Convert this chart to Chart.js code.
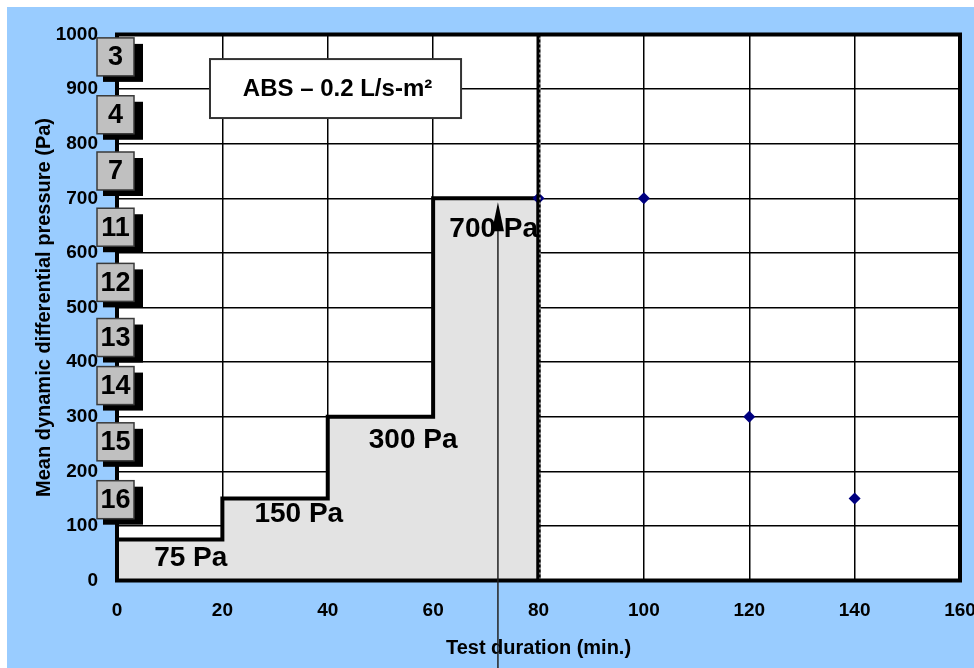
<!DOCTYPE html>
<html>
<head>
<meta charset="utf-8">
<script src="https://cdn.jsdelivr.net/npm/chart.js@4/dist/chart.umd.min.js"></script>
<style>
html,body{margin:0;padding:0;background:#fff;overflow:hidden}
#wrap{width:974px;height:668px;position:relative}
canvas{display:block}
</style>
</head>
<body>
<div id="wrap"><canvas id="c" width="974" height="668"></canvas></div>
<script>
// ---- data ----
const stepStartMinutes = [0, 20, 40, 60];
const stepEndMinutes = [20, 40, 60, 80];
const stepPressures = [75, 150, 300, 700];
const pointMinutes = [80, 100, 120, 140];
const pointPressures = [700, 700, 300, 150];
const markerMinute = 80;
const arrowMinute = 72.3;
const arrowTopPressure = 700;
const specimenNumbers = ['3', '4', '7', '11', '12', '13', '14', '15', '16'];
const xTickValues = [0, 20, 40, 60, 80, 100, 120, 140, 160];
const yTickValues = [0, 100, 200, 300, 400, 500, 600, 700, 800, 900, 1000];
const xTitle = 'Test duration (min.)';
const yTitle = 'Mean dynamic differential pressure (Pa)';
const boxTitle = 'ABS \u2013 0.2 L/s-m\u00B2';

// ---- layout constants (annotation anchors in data units) ----
const FONT = '"Liberation Sans", Arial, Helvetica, sans-serif';
const labelAnchors = [[14.0, 41], [34.5, 122], [56.2, 256], [71.5, 644]];
const boxCenters = [959, 853, 750, 647, 546, 445, 357, 254, 148];
const titleBox = {x0: 17.65, x1: 65.3, y0: 955, y1: 847};

// build step outline from the step arrays
const stepPoints = [{x: stepStartMinutes[0], y: 0}];
stepStartMinutes.forEach((m, i) => stepPoints.push({x: m, y: stepPressures[i]}));
const lastEnd = stepEndMinutes[stepEndMinutes.length - 1];
stepPoints.push({x: lastEnd, y: stepPressures[stepPressures.length - 1]});
stepPoints.push({x: lastEnd, y: 0});

const measured = pointMinutes.map((m, i) => ({x: m, y: pointPressures[i]}));
const markerLine = [{x: markerMinute, y: yTickValues[0]}, {x: markerMinute, y: yTickValues[yTickValues.length - 1]}];

Chart.defaults.font.family = FONT;
Chart.defaults.font.weight = 'bold';
Chart.defaults.color = '#000';

const decor = {
  id: 'decor',
  beforeDraw(chart) {
    const {ctx, chartArea: a} = chart;
    ctx.save();
    ctx.fillStyle = '#fff';
    ctx.fillRect(0, 0, chart.width, chart.height);
    ctx.fillStyle = '#99CCFF';
    ctx.fillRect(7, 7, chart.width - 7, chart.height - 7);
    ctx.fillStyle = '#fff';
    ctx.fillRect(a.left, a.top, a.right - a.left, a.bottom - a.top);
    ctx.restore();
  },
  afterDatasetsDraw(chart) {
    const {ctx, chartArea: a, scales: {x, y}} = chart;
    ctx.save();
    // frame
    ctx.strokeStyle = '#000';
    ctx.lineWidth = 4;
    ctx.strokeRect(a.left, a.top, a.right - a.left, a.bottom - a.top);
    // white stipple along the marker line
    const mx = x.getPixelForValue(markerMinute);
    ctx.strokeStyle = '#fff';
    ctx.lineWidth = 1;
    ctx.setLineDash([2, 3]);
    ctx.beginPath();
    ctx.moveTo(mx + 1.5, a.top + 3);
    ctx.lineTo(mx + 1.5, a.bottom - 2);
    ctx.stroke();
    ctx.setLineDash([]);
    // step labels
    ctx.fillStyle = '#000';
    ctx.font = 'bold 28px ' + FONT;
    ctx.textAlign = 'center';
    ctx.textBaseline = 'middle';
    stepPressures.forEach((p, i) => {
      ctx.fillText(p + ' Pa', x.getPixelForValue(labelAnchors[i][0]), y.getPixelForValue(labelAnchors[i][1]));
    });
    // arrow
    const ax = x.getPixelForValue(arrowMinute);
    const tip = y.getPixelForValue(arrowTopPressure) + 4;
    ctx.strokeStyle = '#222';
    ctx.lineWidth = 1.5;
    ctx.beginPath();
    ctx.moveTo(ax, chart.height);
    ctx.lineTo(ax, tip + 20);
    ctx.stroke();
    ctx.fillStyle = '#000';
    ctx.beginPath();
    ctx.moveTo(ax, tip);
    ctx.lineTo(ax - 6, tip + 29);
    ctx.lineTo(ax + 6, tip + 29);
    ctx.closePath();
    ctx.fill();
    // title box
    const bx0 = x.getPixelForValue(titleBox.x0), bx1 = x.getPixelForValue(titleBox.x1);
    const by0 = y.getPixelForValue(titleBox.y0), by1 = y.getPixelForValue(titleBox.y1);
    ctx.fillStyle = '#fff';
    ctx.fillRect(bx0, by0, bx1 - bx0, by1 - by0);
    ctx.strokeStyle = '#333';
    ctx.lineWidth = 2;
    ctx.strokeRect(bx0, by0, bx1 - bx0, by1 - by0);
    ctx.fillStyle = '#000';
    ctx.font = 'bold 24px ' + FONT;
    ctx.fillText(boxTitle, (bx0 + bx1) / 2 + 2, (by0 + by1) / 2 + 1);
    // specimen number boxes
    ctx.font = 'bold 27px ' + FONT;
    specimenNumbers.forEach((n, i) => {
      const cy = y.getPixelForValue(boxCenters[i]);
      const left = a.left - 20, top = cy - 19, w = 37, h = 38;
      ctx.fillStyle = '#000';
      ctx.fillRect(left + 6, top + 6, w + 3, h);
      ctx.fillStyle = '#C0C0C0';
      ctx.fillRect(left, top, w, h);
      ctx.strokeStyle = '#3a3a3a';
      ctx.lineWidth = 1.5;
      ctx.strokeRect(left, top, w, h);
      ctx.fillStyle = '#000';
      ctx.fillText(n, left + w / 2, cy + 1);
    });
    ctx.restore();
  }
};

new Chart(document.getElementById('c'), {
  type: 'line',
  data: {
    datasets: [
      {
        label: 'End of test',
        data: markerLine,
        borderColor: '#000',
        borderWidth: 4,
        pointRadius: 0,
        fill: false,
        order: 1
      },
      {
        label: 'Measured',
        data: measured,
        showLine: false,
        pointStyle: 'rectRot',
        pointRadius: 6,
        pointBackgroundColor: '#000080',
        pointBorderColor: '#000080',
        pointBorderWidth: 0,
        order: 2
      },
      {
        label: 'Pressure steps',
        data: stepPoints,
        stepped: true,
        fill: 'origin',
        backgroundColor: '#E3E3E3',
        borderColor: '#000',
        borderWidth: 4,
        borderJoinStyle: 'miter',
        pointRadius: 0,
        order: 3
      }
    ]
  },
  options: {
    responsive: false,
    animation: false,
    devicePixelRatio: 1,
    layout: {padding: {top: 34.5, right: 14, bottom: 0, left: 0}},
    plugins: {legend: {display: false}, tooltip: {enabled: false}},
    scales: {
      x: {
        type: 'linear',
        min: xTickValues[0],
        max: xTickValues[xTickValues.length - 1],
        afterBuildTicks(s) { s.ticks = xTickValues.map(v => ({value: v})); },
        afterFit(s) { s.height = 87.5; s.paddingLeft = 0; s.paddingRight = 0; },
        grid: {color: '#000', lineWidth: 1.5, drawTicks: false},
        border: {display: false},
        ticks: {padding: 19, font: {size: 19, weight: 'bold'}, color: '#000', maxRotation: 0, callback: v => String(v)},
        title: {display: true, text: xTitle, font: {size: 20, weight: 'bold'}, color: '#000', padding: {top: 0, bottom: 8}}
      },
      y: {
        type: 'linear',
        min: yTickValues[0],
        max: yTickValues[yTickValues.length - 1],
        afterBuildTicks(s) { s.ticks = yTickValues.map(v => ({value: v})); },
        afterFit(s) { s.width = 117; s.paddingTop = 0; s.paddingBottom = 0; },
        grid: {color: '#000', lineWidth: 1.5, drawTicks: false},
        border: {display: false},
        ticks: {padding: 19, font: {size: 19, weight: 'bold'}, color: '#000', callback: v => String(v)},
        title: {display: true, text: yTitle, font: {size: 20, weight: 'bold'}, color: '#000', padding: {top: 32, bottom: 0}}
      }
    }
  },
  plugins: [decor]
});
</script>
</body>
</html>
